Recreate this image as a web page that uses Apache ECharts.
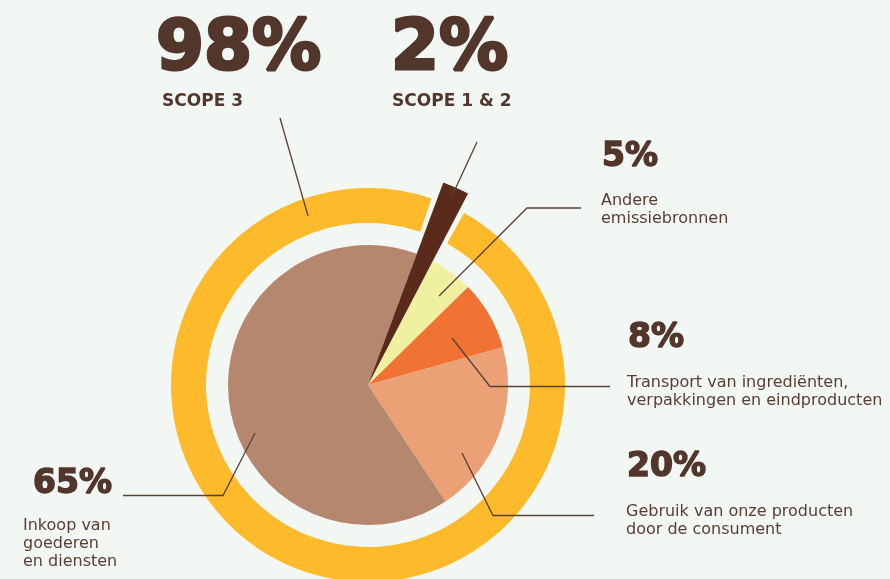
<!DOCTYPE html>
<html><head><meta charset="utf-8">
<script src="https://cdn.jsdelivr.net/npm/echarts@6/dist/echarts.min.js"></script>
<style>html,body{margin:0;padding:0;background:#f3f7f4}#c{width:890px;height:579px}</style>
</head><body><div id="c"></div>
<script>
// ---- data ----
const scopeNames = ['SCOPE 1 & 2', 'SCOPE 3'];
const scopeValues = [2, 98];
const categories = ['Scope 1 & 2', 'Andere emissiebronnen', 'Transport van ingrediënten, verpakkingen en eindproducten', 'Gebruik van onze producten door de consument', 'Inkoop van goederen en diensten'];
const values = [2, 5, 8, 20, 65];
const descriptions = ['', 'Andere\nemissiebronnen', 'Transport van ingrediënten,\nverpakkingen en eindproducten', 'Gebruik van onze producten\ndoor de consument', 'Inkoop van\ngoederen\nen diensten'];

// ---- styles ----
const sliceColors = ['#5a2a1b', '#eff0a0', '#f07333', '#eba075', '#b5876f'];
const ringColor = '#fdba2b';
const textColor = '#52362c';
const descColor = '#583d33';
const lineColor = '#5b4038';
const FONT = '"DejaVu Sans", sans-serif';
const CENTER = [368, 385];
const START = 69.6;

const chart = echarts.init(document.getElementById('c'), null, {renderer: 'canvas'});

function txt(x, baseline, str, size, weight, lh, strokeW, color) {
  lh = lh || size;
  const style = {
    text: str, x: x, y: baseline - 0.3 * size - lh / 2,
    font: weight + ' ' + size + 'px ' + FONT,
    fill: color || textColor, lineHeight: lh, verticalAlign: 'top', align: 'left'
  };
  if (strokeW) { style.stroke = textColor; style.lineWidth = strokeW; }
  return {type: 'text', silent: true, z: 100, style: style};
}
function line(pts) {
  return {type: 'polyline', silent: true, z: 100, shape: {points: pts}, style: {stroke: lineColor, lineWidth: 1.3, fill: null}};
}

const graphics = [
  txt(156, 72, scopeValues[1] + '%', 69, 'bold', null, 3),
  txt(162, 107, scopeNames[1], 17, 'bold'),
  txt(391, 72, scopeValues[0] + '%', 69, 'bold', null, 3),
  txt(392, 107, scopeNames[0], 17, 'bold'),
  line([[280, 118], [308, 216]]),
  line([[477, 142], [452, 196]]),

  txt(602, 167, values[1] + '%', 33, 'bold', null, 1.5),
  txt(601, 206, descriptions[1], 16, 'normal', 18, null, descColor),
  line([[439, 296], [527, 208], [581, 208]]),

  txt(628, 348, values[2] + '%', 33, 'bold', null, 1.5),
  txt(627, 388, descriptions[2], 16, 'normal', 18, null, descColor),
  line([[452, 338], [490, 386.5], [610, 386.5]]),

  txt(627, 477, values[3] + '%', 33, 'bold', null, 1.5),
  txt(626, 517, descriptions[3], 16, 'normal', 18, null, descColor),
  line([[462, 453], [493, 515.5], [594, 515.5]]),

  txt(33, 494, values[4] + '%', 33, 'bold', null, 1.5),
  txt(23, 531, descriptions[4], 16, 'normal', 18, null, descColor),
  line([[123, 495.5], [223, 495.5], [255, 433]])
];

chart.setOption({
  backgroundColor: '#f3f7f4',
  animation: false,
  series: [
    {
      type: 'pie', silent: true, center: CENTER, radius: [162, 197], startAngle: START,
      clockwise: true, padAngle: 3.2, label: {show: false}, labelLine: {show: false},
      data: scopeValues.map((v, i) => ({name: scopeNames[i], value: v,
        itemStyle: {color: i === 0 ? 'rgba(0,0,0,0)' : ringColor}}))
    },
    {
      type: 'pie', silent: true, center: CENTER, radius: [0, 140], startAngle: START,
      clockwise: true, label: {show: false}, labelLine: {show: false},
      data: values.map((v, i) => ({name: categories[i], value: v,
        itemStyle: {color: i === 0 ? 'rgba(0,0,0,0)' : sliceColors[i]}}))
    },
    {
      type: 'pie', silent: true, center: CENTER, radius: [0, 216], startAngle: START,
      clockwise: true, label: {show: false}, labelLine: {show: false},
      data: values.map((v, i) => ({name: categories[i], value: v,
        itemStyle: {color: i === 0 ? sliceColors[0] : 'rgba(0,0,0,0)'}}))
    }
  ],
  graphic: graphics
});
</script></body></html>
